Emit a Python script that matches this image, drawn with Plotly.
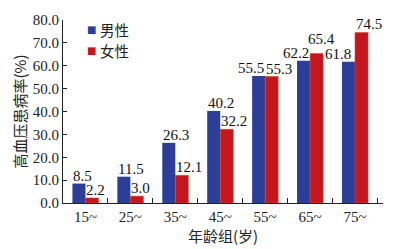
import plotly.graph_objects as go

categories = ["15~", "25~", "35~", "45~", "55~", "65~", "75~"]
male = [8.5, 11.5, 26.3, 40.2, 55.5, 62.2, 61.8]
female = [2.2, 3.0, 12.1, 32.2, 55.3, 65.4, 74.5]
y_ticks = [0, 10, 20, 30, 40, 50, 60, 70, 80]
series_names = ["男性", "女性"]

# label placement (style): "left" = starts at bar's left edge, "right" = ends at bar's right edge
male_align = ["left", "left", "left", "left", "right", "right", "right"]
female_align = ["left"] * 7
male_lift = [0, 0, 0, 0, 0, 0, 0]      # extra px above bar
female_lift = [0, 0, 0, 0, 0, 6, 1]
male_nudge = [0, 0, 0, 0, 0, 0, -3]    # extra px horizontal
female_nudge = [0, 0, 0, 0, 0, -3, 0]

serif = "Liberation Serif"
cjk = "Noto Sans CJK SC"
BLUE = "#2B3E98"
RED = "#C5161E"
BARGAP = 0.42

fig = go.Figure()
fig.add_trace(go.Bar(x=categories, y=male, name=series_names[0],
                     marker=dict(color=BLUE, line=dict(width=0))))
fig.add_trace(go.Bar(x=categories, y=female, name=series_names[1],
                     marker=dict(color=RED, line=dict(color="#D8492A", width=0.6))))

w = (1 - BARGAP) / 2  # width of one bar in category units
annotations = []
for i, (m, f) in enumerate(zip(male, female)):
    for val, left, right, al, lift, nudge in ((m, i - w, i, male_align[i], male_lift[i], male_nudge[i]),
                                              (f, i, i + w, female_align[i], female_lift[i], female_nudge[i])):
        annotations.append(dict(
            x=left if al == "left" else right, y=val, xref="x", yref="y",
            text=f"{val:.1f}", showarrow=False, xanchor=al, yanchor="bottom",
            yshift=-1 + lift, xshift=nudge, borderpad=0,
            font=dict(family=serif, size=15, color="#111")))

# manual legend (top-left inside the plot)
for name, color, ly in ((series_names[0], BLUE, 0.947), (series_names[1], RED, 0.833)):
    annotations.append(dict(x=0.0875, y=ly, xref="paper", yref="paper", text="■", showarrow=False,
                            xanchor="center", yanchor="middle", borderpad=0,
                            font=dict(family="DejaVu Sans", size=10, color=color)))
    annotations.append(dict(x=0.1125, y=ly, xref="paper", yref="paper", text=name, showarrow=False,
                            xanchor="left", yanchor="middle", borderpad=0,
                            font=dict(family=cjk, size=14.5, color="#222")))

fig.update_layout(
    width=413, height=249,
    margin=dict(l=63, r=30, t=17, b=46),
    paper_bgcolor="white", plot_bgcolor="white",
    barmode="group", bargap=BARGAP, bargroupgap=0,
    showlegend=False,
    font=dict(family=serif, size=15, color="#222"),
    annotations=annotations,
)
fig.update_xaxes(showline=True, linecolor="#222", linewidth=1, ticks="inside", ticklen=5, tickcolor="#222",
                 tickson="boundaries", showgrid=False,
                 tickfont=dict(family=serif, size=15, color="#222"),
                 title=dict(text="年龄组(岁)", font=dict(family=cjk, size=15, color="#222"), standoff=0))
fig.update_yaxes(range=[0, 80], tickvals=y_ticks, tickformat=".1f", showline=True, linecolor="#222", linewidth=1,
                 ticks="inside", ticklen=4, tickcolor="#222", showgrid=False, zeroline=False,
                 tickfont=dict(family=serif, size=15, color="#222"),
                 title=dict(text="高血压患病率(%)", font=dict(family=cjk, size=15, color="#222"), standoff=2))

fig.write_html("out.html", config={"displayModeBar": False},
               post_script="document.body.style.margin='0px';")
